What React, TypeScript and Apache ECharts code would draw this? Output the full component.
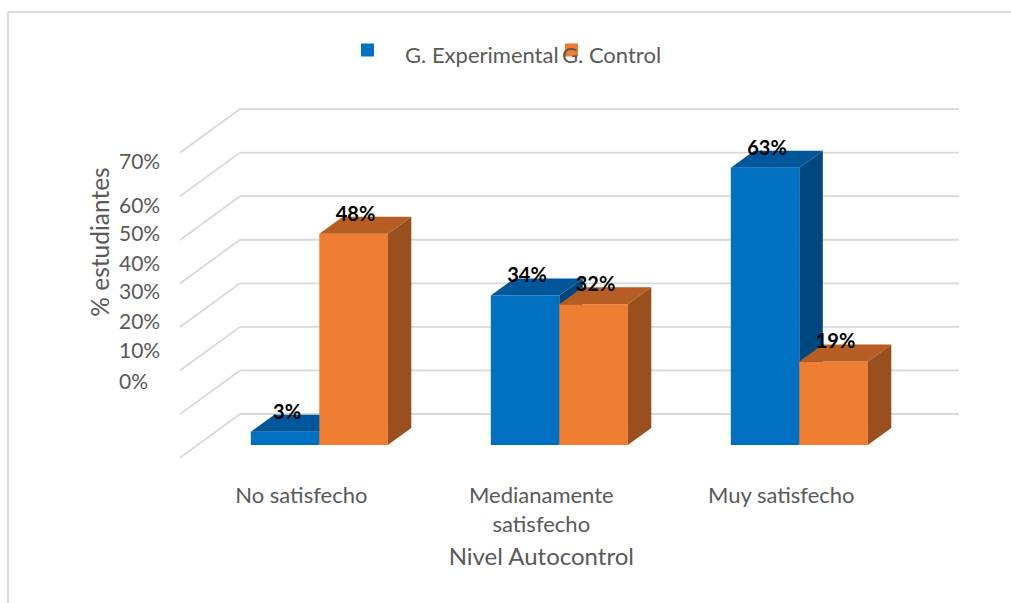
import React, { useEffect, useRef } from "react";
import * as echarts from "echarts";

const categories = ["No satisfecho", "Medianamente\nsatisfecho", "Muy satisfecho"];
const seriesNames = ["G. Experimental", "G. Control"];
const experimental = [3, 34, 63];
const control = [48, 32, 19];
const tickLabels = ["70%", "60%", "50%", "40%", "30%", "20%", "10%", "0%"];
const gridValues = [0, 10, 20, 30, 40, 50, 60, 70];

const FONT = "Lato, 'Open Sans', sans-serif";
const GRAY = "#595959";
const GRID_COLOR = "#D9D9D9";

const COLORS = [
  { front: "#0070C0", top: "#00569A", side: "#00477F" },
  { front: "#ED7D31", top: "#B55D23", side: "#9A4F1E" },
];

const DEPTH_DX = 23.5;
const DEPTH_DY = -17;
const BAR_RATIO = 0.2854;

function makeBarRender(seriesIdx: number) {
  const c = COLORS[seriesIdx];
  return (params: any, api: any) => {
    const i = api.value(0);
    const v = api.value(1);
    const base = api.coord([i, 0]);
    const topP = api.coord([i, v]);
    const bw = api.size([1, 0])[0] * BAR_RATIO;
    const x0 = seriesIdx === 0 ? base[0] - bw : base[0];
    const x1 = x0 + bw;
    const top = topP[1];
    const bottom = base[1];
    return {
      type: "group",
      children: [
        {
          type: "rect",
          shape: { x: x0, y: top, width: bw, height: bottom - top },
          style: { fill: c.front },
        },
        {
          type: "polygon",
          shape: {
            points: [
              [x0, top],
              [x1, top],
              [x1 + DEPTH_DX, top + DEPTH_DY],
              [x0 + DEPTH_DX, top + DEPTH_DY],
            ],
          },
          style: { fill: c.top },
        },
        {
          type: "polygon",
          shape: {
            points: [
              [x1, top],
              [x1 + DEPTH_DX, top + DEPTH_DY],
              [x1 + DEPTH_DX, bottom + DEPTH_DY],
              [x1, bottom],
            ],
          },
          style: { fill: c.side },
        },
        {
          type: "text",
          x: (x0 + x1) / 2 + 2,
          y: top - 21,
          z2: 10,
          style: {
            text: v + "%",
            fill: "#000",
            font: `bold 20px ${FONT}`,
            align: "center",
            verticalAlign: "middle",
          },
        },
      ],
    };
  };
}

function renderWalls(params: any, api: any) {
  const cs = params.coordSys;
  const y0 = api.coord([0, 0])[1];
  const children: any[] = [];
  gridValues.forEach((g) => {
    const yv = api.coord([0, g])[1];
    const by = y0 - 31 + (yv - y0) * 0.99;
    const bx = cs.x + 40.7;
    children.push({
      type: "line",
      shape: { x1: bx, y1: by, x2: cs.x + cs.width + 39.7, y2: by },
      style: { stroke: GRID_COLOR, lineWidth: 1.8 },
    });
    children.push({
      type: "line",
      shape: { x1: bx - 60, y1: by + 43.7, x2: bx, y2: by },
      style: { stroke: GRID_COLOR, lineWidth: 1.8 },
    });
  });
  return { type: "group", children };
}

const tickYs = [160, 204, 232.5, 262, 290, 320, 349, 380];

export default function App() {
  const ref = useRef<HTMLDivElement>(null);
  useEffect(() => {
    if (!ref.current) return;
    const chart = echarts.init(ref.current, undefined, { renderer: "svg" });
    const legendGraphics: any[] = [
      { type: "rect", shape: { x: 361, y: 43.5, width: 13, height: 13 }, style: { fill: COLORS[0].front } },
      { type: "rect", shape: { x: 565, y: 43.5, width: 13, height: 13 }, style: { fill: COLORS[1].front } },
      {
        type: "text", x: 405, y: 54,
        style: { text: seriesNames[0], fill: GRAY, font: `22px ${FONT}`, align: "left", verticalAlign: "middle" },
      },
      {
        type: "text", x: 562, y: 54,
        style: { text: seriesNames[1], fill: GRAY, font: `22px ${FONT}`, align: "left", verticalAlign: "middle" },
      },
    ];
    const tickGraphics = tickLabels.map((t, k) => ({
      type: "text",
      x: 119,
      y: tickYs[k],
      style: { text: t, fill: GRAY, font: `21px ${FONT}`, align: "left", verticalAlign: "middle" },
    }));
    chart.setOption({
      animation: false,
      backgroundColor: "#fff",
      grid: { left: 199.3, right: 1011 - 919.3, top: 137, bottom: 158, containLabel: false },
      xAxis: {
        type: "category",
        data: categories,
        axisLine: { show: false },
        axisTick: { show: false },
        splitLine: { show: false },
        axisLabel: {
          interval: 0,
          margin: 35,
          color: GRAY,
          fontFamily: FONT,
          fontSize: 22,
          lineHeight: 29,
          padding: [0, 36, 0, 0],
        },
        name: "Nivel Autocontrol",
        nameLocation: "middle",
        nameGap: 110,
        nameTextStyle: {
          color: GRAY,
          fontFamily: FONT,
          fontSize: 24,
          verticalAlign: "middle",
          padding: [0, 36, 0, 0],
        },
      },
      yAxis: {
        type: "value",
        min: 0,
        max: 70,
        interval: 10,
        axisLine: { show: false },
        axisTick: { show: false },
        axisLabel: { show: false },
        splitLine: { show: false },
      },
      graphic: [
        {
          type: "line",
          shape: { x1: 8, y1: 12, x2: 1011, y2: 12 },
          style: { stroke: GRID_COLOR, lineWidth: 2 },
        },
        {
          type: "line",
          shape: { x1: 8, y1: 12, x2: 8, y2: 603 },
          style: { stroke: GRID_COLOR, lineWidth: 2 },
        },
        ...legendGraphics,
        ...tickGraphics,
        {
          type: "text",
          x: 99,
          y: 242,
          rotation: Math.PI / 2,
          style: { text: "% estudiantes", fill: GRAY, font: `24.5px ${FONT}`, align: "center", verticalAlign: "middle" },
        },
      ],
      series: [
        {
          type: "custom",
          name: "walls",
          renderItem: renderWalls,
          data: [[0, 0]],
          silent: true,
          z: 1,
        },
        {
          type: "custom",
          name: seriesNames[0],
          renderItem: makeBarRender(0),
          data: experimental.map((v, i) => [i, v]),
          encode: { x: 0, y: 1 },
          z: 2,
        },
        {
          type: "custom",
          name: seriesNames[1],
          renderItem: makeBarRender(1),
          data: control.map((v, i) => [i, v]),
          encode: { x: 0, y: 1 },
          z: 3,
        },
      ],
    });
    return () => chart.dispose();
  }, []);
  return (
    <div
      ref={ref}
      style={{ position: "absolute", left: 0, top: 0, width: 1011, height: 603 }}
    />
  );
}
